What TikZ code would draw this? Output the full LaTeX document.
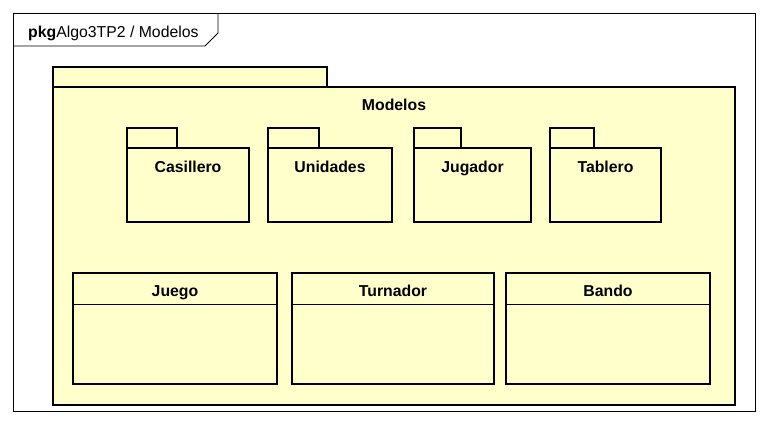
\documentclass[tikz,border=0pt]{standalone}
\usepackage{fontspec}
\setmainfont{Liberation Sans}
\definecolor{umlfill}{HTML}{FFFFCC}
\begin{document}
\begin{tikzpicture}[x=1pt,y=-1pt,
  pkgshape/.style={draw=black,line width=2.6pt,fill=umlfill,line join=miter},
  clsshape/.style={draw=black,line width=2.6pt,fill=umlfill},
  lbl/.style={font=\fontsize{15.8}{18}\selectfont\bfseries,inner sep=0pt,anchor=base},
  thin/.style={draw=black,line width=0.9pt}]
\useasboundingbox (0,0) rectangle (768,424);
\fill[white] (0,0) rectangle (768,424);
% frame
\draw[thin] (13,13) rectangle (755,411);
\draw[thin] (13,46) -- (205,46) -- (218,33) -- (218,13);
\node[anchor=base west,inner sep=0pt,font=\fontsize{15.8}{18}\selectfont] (hdr) at (28,37) {\textbf{pkg}Algo3TP2 / Modelos};
% big package
\draw[pkgshape] (53,67) rectangle (327,87);
\draw[pkgshape] (53,87) rectangle (735,405);
\node[lbl] (modelos) at (394,110) {Modelos};
% sub packages
\foreach \xa/\xb/\xc/\name/\txt in {127/177/249/cas/Casillero,268/319/392/uni/Unidades,414/461/531/jug/Jugador,550/594/661/tab/Tablero}{
  \draw[pkgshape] (\xa,128) rectangle (\xb,148);
  \draw[pkgshape] (\xa,148) rectangle (\xc,222);
  \node[lbl] (\name) at ({(\xa+\xc)/2},172) {\txt};
}
% classes
\foreach \xa/\xb/\name/\txt in {73/277/juego/Juego,292/494/turn/Turnador,506/710/bando/Bando}{
  \draw[clsshape] (\xa,273) rectangle (\xb,384);
  \draw[thin] (\xa,304) -- (\xb,304);
  \node[lbl] (\name) at ({(\xa+\xb)/2},296) {\txt};
}
\end{tikzpicture}
\end{document}
